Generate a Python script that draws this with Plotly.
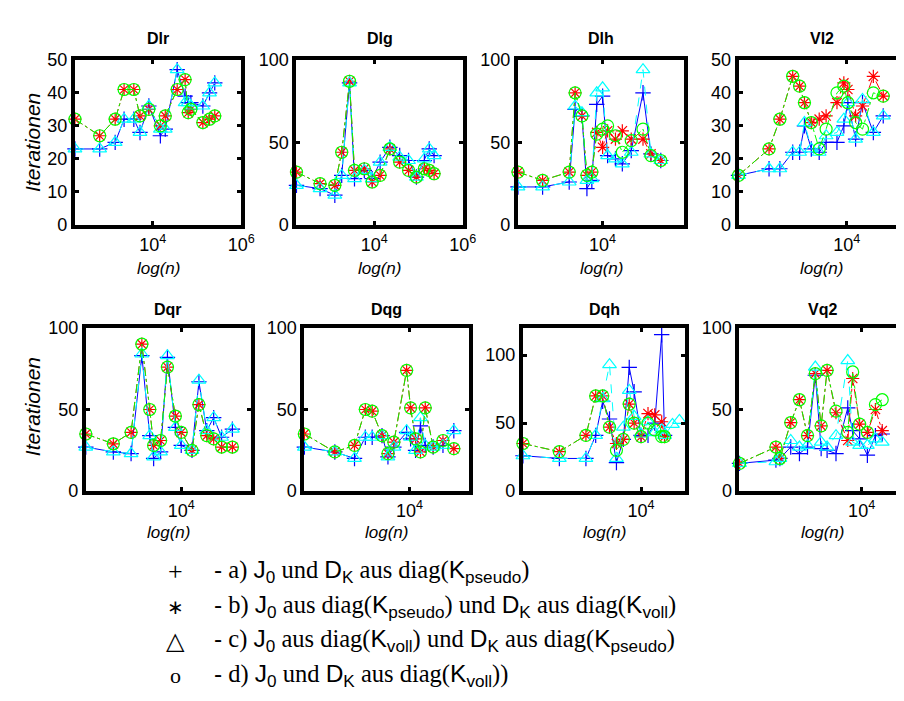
import plotly.graph_objects as go

# ---------------- data (n = problem size, values = iterations) ----------------
# series: a = "+" blue, b = "*" red, c = triangle cyan, d = "o" green
dlr_n = [174, 630, 1410, 2240, 3720, 5130, 8130, 14800, 19100, 35500, 53700, 63100, 72400, 135000, 191000, 251000]
dlr_a = [23, 23, 25, 32, 32, 28, 36, 27, 29, 47, 39, 37, 37, 36, 40, 43]
dlr_b = [32, 27, 32, 41, 41, 33, 35, 30, 33, 41, 44, 34, 35, 31, 32, 33]
dlr_c = [23, 23, 25, 32, 32, 28, 36, 29, 29, 47, 37, 37, 36, 36, 40, 43]
dlr_d = [32, 27, 32, 41, 41, 33, 35, 30, 33, 41, 44, 34, 35, 31, 32, 33]

dlg_n = [174, 593, 1280, 1830, 2750, 3560, 5930, 8930, 13500, 22400, 37400, 59300, 89300, 135000, 174000, 224000]
dlg_a = [24, 22, 18, 30, 86, 28, 33, 28, 38, 47, 42, 39, 29, 39, 46, 42]
dlg_b = [32, 25, 24, 44, 87, 33, 34, 26, 30, 46, 38, 33, 29, 34, 33, 31]
dlg_c = [24, 22, 18, 30, 86, 28, 33, 28, 38, 47, 41, 39, 29, 40, 46, 42]
dlg_d = [32, 25, 24, 44, 87, 33, 34, 26, 30, 46, 38, 33, 29, 34, 33, 31]

dlh_n = [174, 565, 2020, 2680, 3720, 4720, 5970, 7550, 10000, 12700, 18500, 25700, 39400, 69200, 101000, 162000]
dlh_a = [23, 23, 26, 70, 66, 22, 27, 73, 78, 42, 40, 37, 45, 80, 43, 39]
dlh_b = [32, 27, 32, 80, 66, 30, 32, 56, 47, 57, 52, 57, 52, 52, 43, 39]
dlh_c = [23, 23, 26, 72, 68, 27, 28, 80, 83, 42, 40, 37, 44, 94, 43, 39]
dlh_d = [32, 27, 32, 80, 66, 30, 32, 55, 58, 60, 54, 44, 51, 58, 42, 39]

vl2_n = [174, 545, 817, 1320, 1710, 2050, 2650, 3560, 4610, 6920, 8950, 10400, 13900, 18000, 27000, 39100]
vl2_a = [15, 17, 17, 22, 22, 30, 23, 22, 25, 25, 30, 37, 26, 37, 28, 33]
vl2_b = [15, 23, 32, 45, 42, 37, 31, 32, 33, 37, 43, 41, 33, 36, 45, 39]
vl2_c = [15, 17, 17, 22, 22, 31, 23, 22, 27, 28, 32, 37, 26, 38, 28, 33]
vl2_d = [15, 23, 32, 45, 42, 37, 31, 23, 29, 40, 42, 37, 31, 29, 40, 39]

dqr_n = [174, 560, 1190, 1880, 2630, 3100, 4160, 5570, 7800, 10000, 15800, 21200, 29600, 39700, 55500, 87900]
dqr_a = [27, 24, 23, 83, 34, 20, 24, 82, 39, 28, 25, 67, 37, 45, 33, 38]
dqr_b = [35, 29, 36, 90, 50, 28, 31, 76, 46, 36, 25, 53, 34, 32, 27, 27]
dqr_c = [27, 24, 23, 84, 34, 21, 24, 83, 39, 28, 25, 68, 37, 45, 33, 38]
dqr_d = [35, 29, 36, 90, 50, 28, 31, 76, 46, 36, 25, 53, 34, 32, 27, 27]

dqg_n = [174, 562, 1200, 1820, 2370, 3460, 4350, 5460, 8930, 10400, 12600, 15200, 18300, 24800, 36200, 55000]
dqg_a = [27, 24, 20, 33, 33, 34, 21, 27, 36, 32, 25, 40, 28, 27, 28, 37]
dqg_b = [35, 24, 28, 50, 49, 34, 23, 30, 74, 51, 32, 24, 51, 27, 31, 26]
dqg_c = [27, 24, 20, 33, 33, 34, 21, 27, 37, 33, 25, 45, 28, 27, 28, 37]
dqg_d = [35, 24, 28, 50, 49, 34, 23, 30, 74, 51, 32, 24, 51, 27, 31, 26]

dqh_n = [174, 607, 1510, 2110, 2680, 3390, 4300, 5450, 6670, 7890, 10000, 12700, 16000, 20300, 22400, 29400, 37300]
dqh_a = [26, 24, 24, 41, 66, 53, 21, 38, 91, 73, 41, 41, 50, 115, 41, None, None]
dqh_b = [35, 29, 41, 70, 70, 47, 35, 38, 64, 50, 40, 57, 56, 51, 40, None, None]
dqh_c = [26, 24, 24, 41, 68, 93, 24, 47, 74, 55, 42, 51, 43, 45, 41, 49, 52]
dqh_d = [35, 29, 41, 70, 70, 47, 30, 38, 64, 50, 40, 50, 45, 40, 40, None, None]

vq2_n = [174, 582, 664, 951, 1270, 1660, 2150, 2610, 3180, 4270, 6310, 7430, 9350, 12100, 15800, 19800]
vq2_a = [17, 19, 20, 27, 23, 27, 71, 26, 25, 23, 51, 37, 32, 22, 34, 35]
vq2_b = [17, 27, 20, 42, 56, 34, 72, 40, 74, 48, 31, 69, 41, 36, 50, 37]
vq2_c = [17, 18, 20, 31, 27, 28, 76, 30, 27, 34, 80, 30, 28, 28, 32, 30]
vq2_d = [17, 27, 20, 42, 56, 34, 72, 40, 74, 49, 36, 73, 41, 36, 53, 56]

titles = ["Dlr", "Dlg", "Dlh", "Vl2", "Dqr", "Dqg", "Dqh", "Vq2"]
y_ticks = [[0, 10, 20, 30, 40, 50], [0, 50, 100], [0, 50, 100], [0, 10, 20, 30, 40, 50],
           [0, 50, 100], [0, 50, 100], [0, 50, 100], [0, 50, 100]]
y_max = [50, 100, 100, 50, 100, 100, 120, 100]
x_tickvals = [[1e4, 1e6], [1e4, 1e6], [1e4], [1e4], [1e4], [1e4], [1e4], [1e4]]
x_ticktext = [["10<sup>4</sup>", "10<sup>6</sup>"], ["10<sup>4</sup>", "10<sup>6</sup>"],
              ["10<sup>4</sup>"], ["10<sup>4</sup>"], ["10<sup>4</sup>"], ["10<sup>4</sup>"],
              ["10<sup>4</sup>"], ["10<sup>4</sup>"]]

panels = [
    (dlr_n, dlr_a, dlr_b, dlr_c, dlr_d),
    (dlg_n, dlg_a, dlg_b, dlg_c, dlg_d),
    (dlh_n, dlh_a, dlh_b, dlh_c, dlh_d),
    (vl2_n, vl2_a, vl2_b, vl2_c, vl2_d),
    (dqr_n, dqr_a, dqr_b, dqr_c, dqr_d),
    (dqg_n, dqg_a, dqg_b, dqg_c, dqg_d),
    (dqh_n, dqh_a, dqh_b, dqh_c, dqh_d),
    (vq2_n, vq2_a, vq2_b, vq2_c, vq2_d),
]

# ---------------- layout geometry (pixels) ----------------
W, H = 904, 701
# (left px, right px, log10 x-range)
x_geo = [(68, 237, 2.24, 6.0), (293, 462, 2.24, 6.0), (518, 687, 2.24, 5.70), (742, 904, 2.24, 4.832),
         (79, 247, 2.24, 5.29), (301, 468, 2.24, 4.99), (523, 688, 2.24, 4.66), (743, 904, 2.24, 4.524)]
row_geo = [(43, 213), (319, 487)]

def fx(px):
    return px / W

def fy(py):
    return 1 - py / H

SANS = "Liberation Sans, Arial, Helvetica, sans-serif"
SERIF = "Liberation Serif, Times New Roman, serif"

styles = [
    dict(line=dict(color="#0000FF", width=1),
         marker=dict(symbol="cross-thin", size=11, color="#0000FF", line=dict(color="#0000FF", width=1.2))),
    dict(line=dict(color="#FF0000", width=1, dash="dashdot"),
         marker=dict(symbol="asterisk", size=11, color="#FF0000", line=dict(color="#FF0000", width=1.2))),
    dict(line=dict(color="#00FFFF", width=1, dash="dash"),
         marker=dict(symbol="triangle-up-open", size=12, color="#00FFFF", line=dict(color="#00FFFF", width=1.2))),
    dict(line=dict(color="#00FF00", width=1, dash="dashdot"),
         marker=dict(symbol="circle-open", size=12, color="#00FF00", line=dict(color="#00FF00", width=1.2))),
]

fig = go.Figure()
layout = dict(width=W, height=H, margin=dict(l=0, r=0, t=0, b=0),
              paper_bgcolor="white", plot_bgcolor="white", showlegend=False,
              font=dict(family=SANS, color="black"))
annotations = []

for i, (n, a, b, c, d) in enumerate(panels):
    k = i + 1
    xs = "" if k == 1 else str(k)
    for s, vals in zip(styles, (a, b, c, d)):
        fig.add_trace(go.Scatter(x=n, y=vals, mode="lines+markers", xaxis="x" + xs, yaxis="y" + xs,
                                 cliponaxis=False, connectgaps=True, hoverinfo="skip", **s))
    l, r, lo, hi = x_geo[i]
    top, bot = row_geo[i // 4]
    edge = (i % 4 == 3)
    layout["xaxis" + xs] = dict(type="log", range=[lo, hi], domain=[fx(l), fx(r)], anchor="y" + xs,
                                showline=True, linewidth=4, linecolor="black", mirror="ticks",
                                ticks="inside", ticklen=4, tickwidth=3, tickcolor="black",
                                tickvals=x_tickvals[i], ticktext=x_ticktext[i],
                                showgrid=False, zeroline=False,
                                tickfont=dict(family=SANS, size=18, color="black"))
    layout["yaxis" + xs] = dict(range=[0, y_max[i]], domain=[fy(bot), fy(top)], anchor="x" + xs,
                                showline=True, linewidth=4, linecolor="black",
                                mirror=(True if edge else "ticks"),
                                ticks="inside", ticklen=4, tickwidth=3, tickcolor="black",
                                tickvals=y_ticks[i], showgrid=False, zeroline=False,
                                tickfont=dict(family=SANS, size=18, color="black"))
    # title
    title_y = 21 if i < 4 else 300
    cx = (l + (r if not edge else l + 169)) / 2
    annotations.append(dict(text="<b>%s</b>" % titles[i], x=fx(cx), y=fy(title_y), xref="paper", yref="paper",
                            showarrow=False, xanchor="center", yanchor="middle",
                            font=dict(family=SANS, size=16, color="black")))
    # x label
    lab_y = 258 if i < 4 else 530
    annotations.append(dict(text="<i>log(n)</i>", x=fx(cx), y=fy(lab_y), xref="paper", yref="paper",
                            showarrow=False, xanchor="center", yanchor="middle",
                            font=dict(family=SANS, size=17, color="black")))

for py in (128, 400):
    annotations.append(dict(text="<i>Iterationen</i>", x=fx(25), y=fy(py), xref="paper", yref="paper",
                            showarrow=False, xanchor="center", yanchor="middle", textangle=-90,
                            font=dict(family=SANS, size=21, color="black")))

# ---------------- legend text ----------------
def sans(t):
    return '<span style="font-family:Liberation Sans, Arial, sans-serif">%s</span>' % t

J0 = sans("J") + "<sub>" + sans("0") + "</sub>"
DK = sans("D") + "<sub>" + sans("K") + "</sub>"
KP = sans("K") + "<sub>" + sans("pseudo") + "</sub>"
KV = sans("K") + "<sub>" + sans("voll") + "</sub>"

legend_symbols = ["+", "∗", "△", "o"]
legend_sym_size = [26, 20, 24, 22]
legend_texts = [
    sans("-") + " a) " + J0 + " und " + DK + " aus diag(" + KP + ")",
    sans("-") + " b) " + J0 + " aus diag(" + KP + ") und " + DK + " aus diag(" + KV + ")",
    sans("-") + " c) " + J0 + " aus diag(" + KV + ") und " + DK + " aus diag(" + KP + ")",
    sans("-") + " d) " + J0 + " und " + DK + " aus diag(" + KV + "))",
]
legend_y = [570, 606, 641, 677]
for sym, ssz, txt, py in zip(legend_symbols, legend_sym_size, legend_texts, legend_y):
    annotations.append(dict(text=sym, x=fx(170), y=fy(py), xref="paper", yref="paper", showarrow=False,
                            xanchor="center", yanchor="middle", font=dict(family=SERIF, size=ssz, color="black")))
    annotations.append(dict(text=txt, x=fx(207), y=fy(py), xref="paper", yref="paper", showarrow=False,
                            xanchor="left", yanchor="middle", font=dict(family=SERIF, size=24.5, color="black")))

layout["annotations"] = annotations
fig.update_layout(**layout)
fig.write_html("out.html")
